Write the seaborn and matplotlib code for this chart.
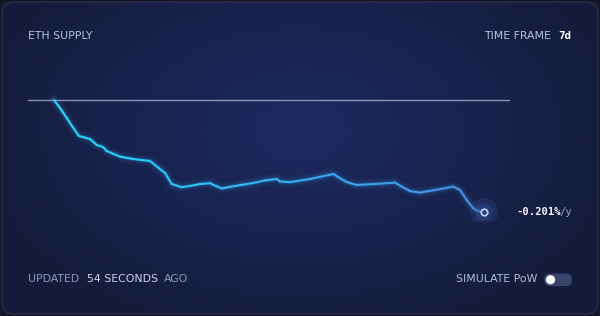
import numpy as np
import pandas as pd
import matplotlib
matplotlib.use("Agg")
import matplotlib.pyplot as plt
import seaborn as sns
from matplotlib.collections import LineCollection
from matplotlib.patches import FancyBboxPatch, Circle
from matplotlib.colors import LinearSegmentedColormap

# ---------------- data ----------------
days = [0.000, 0.098, 0.207, 0.293, 0.407, 0.586, 0.695, 0.798, 0.858, 1.075,
        1.286, 1.563, 1.644, 1.807, 1.916, 2.079, 2.214, 2.377, 2.540, 2.637,
        2.730, 2.947, 3.240, 3.435, 3.625, 3.679, 3.842, 4.167, 4.547, 4.656,
        4.765, 4.928, 5.226, 5.551, 5.660, 5.795, 5.958, 6.202, 6.500, 6.609,
        6.718, 6.826, 6.902, 7.000]
supply_change = [0, -40, -90, -130, -180, -195, -225, -235, -255, -283,
                 -295, -305, -325, -365, -420, -436, -430, -420, -416, -430,
                 -442, -430, -415, -402, -395, -407, -411, -395, -370, -391,
                 -410, -425, -420, -413, -433, -455, -463, -450, -433, -450,
                 -500, -541, -555, -560]
rate_label = "-0.201%"
rate_unit = "/y"
title = "ETH SUPPLY"
timeframe_label = "TIME FRAME"
timeframe_value = "7d"
updated_parts = ["UPDATED", "54 SECONDS", "AGO"]
toggle_label = "SIMULATE PoW"

df = pd.DataFrame({"day": days, "supply": supply_change})

W, H = 600, 316
fig = plt.figure(figsize=(W / 100, H / 100), dpi=100)
fig.patch.set_facecolor("#121628")

def fx(px):
    return px / W

def fy(py):
    return 1 - py / H

# ---------------- background card ----------------
bg = fig.add_axes([0, 0, 1, 1])
bg.set_xlim(0, W)
bg.set_ylim(H, 0)
bg.axis("off")
card = FancyBboxPatch((2, 2), W - 4, H - 4,
                      boxstyle="round,pad=0,rounding_size=12",
                      facecolor="none", edgecolor="#2a2f48", lw=1.0, zorder=2)
bg.add_patch(card)
yy, xx = np.mgrid[0:H, 0:W]
d = np.sqrt(((xx - 300) / 330.0) ** 2 + ((yy - 130) / 210.0) ** 2)
d = np.clip(d, 0, 1)
cmap_bg = LinearSegmentedColormap.from_list("bg", ["#1d2a60", "#19234f", "#151c3b"])
im = bg.imshow(d, cmap=cmap_bg, extent=(0, W, H, 0), origin="upper", zorder=1,
               interpolation="bilinear", aspect="auto")
clip = FancyBboxPatch((2, 2), W - 4, H - 4,
                      boxstyle="round,pad=0,rounding_size=12",
                      transform=bg.transData, facecolor="none", edgecolor="none")
bg.add_patch(clip)
im.set_clip_path(clip)

# ---------------- chart axes ----------------
px_left, px_right = 28, 510
py_top, py_bot = 90, 222
ax = fig.add_axes([fx(px_left), fy(py_bot), (px_right - px_left) / W, (py_bot - py_top) / H])
ax.patch.set_alpha(0)
span = 7 * (26 / 430)
ax.set_xlim(-span, 7 + span)
ax.set_ylim(-610, 50)
ax.axis("off")

ax.axhline(0, color="#8d93b3", lw=1.0, zorder=2)

# glow layers
for lw_, a_ in [(8, 0.05), (5, 0.09), (3, 0.16)]:
    sns.lineplot(data=df, x="day", y="supply", ax=ax, color="#2f9fe8",
                 lw=lw_, alpha=a_, legend=False, zorder=3)

# gradient core line
x = np.array(days)
y = np.array(supply_change)
pts = np.array([x, y]).T.reshape(-1, 1, 2)
segs = np.concatenate([pts[:-1], pts[1:]], axis=1)
cmap_line = LinearSegmentedColormap.from_list("ln", ["#27d6f7", "#2ec4f2", "#3aa4ee", "#5088e2"])
lc = LineCollection(segs, cmap=cmap_line, linewidths=1.5, zorder=4, capstyle="round",
                    joinstyle="round")
lc.set_array((x[:-1] + x[1:]) / 2 / 7)
ax.add_collection(lc)

# end marker
ax.scatter([x[-1]], [y[-1]], s=420, color="#3a5ca8", alpha=0.22, zorder=5, edgecolors="none")
ax.scatter([x[-1]], [y[-1]], s=170, color="#3a5ca8", alpha=0.25, zorder=5, edgecolors="none")
ax.scatter([x[-1]], [y[-1]], s=22, color="#2c3f80", edgecolors="#c2d2f5", linewidths=1.2, zorder=6)

# ---------------- texts ----------------
lab_font = "DejaVu Sans"
fs = 7.8
fig.text(fx(28), fy(36), title, color="#b9c3de", fontsize=fs, family=lab_font, va="center", ha="left")
fig.text(fx(551), fy(36), timeframe_label, color="#b9c3de", fontsize=fs, family=lab_font, va="center", ha="right")
fig.text(fx(558), fy(36), timeframe_value, color="#ffffff", fontsize=7.8, family="DejaVu Sans Mono",
         weight="bold", va="center", ha="left")

fig.text(fx(516), fy(212), rate_label, color="#f2f4fa", fontsize=7.6, family="DejaVu Sans Mono",
         weight="bold", va="center", ha="left")
fig.text(fx(559.5), fy(212), rate_unit, color="#9aa3bf", fontsize=7.6, family="DejaVu Sans Mono",
         va="center", ha="left")

fig.text(fx(28), fy(279), updated_parts[0], color="#8e99b9", fontsize=fs, family=lab_font, va="center", ha="left")
fig.text(fx(87), fy(279), updated_parts[1], color="#cdd4ea", fontsize=fs, family=lab_font, va="center", ha="left")
fig.text(fx(188), fy(279), updated_parts[2], color="#8e99b9", fontsize=fs, family=lab_font, va="center", ha="right")

fig.text(fx(537), fy(279.5), toggle_label, color="#b3bdd9", fontsize=fs, family=lab_font, va="center", ha="right")

# toggle
tog = FancyBboxPatch((544, 273.5), 28, 12.5, boxstyle="round,pad=0,rounding_size=6.2",
                     facecolor="#3a456e", edgecolor="none", zorder=5)
bg.add_patch(tog)
bg.add_patch(Circle((550.5, 279.7), 4.6, facecolor="#ffffff", edgecolor="none", zorder=6))

fig.savefig("out.png", dpi=100, facecolor=fig.get_facecolor())
